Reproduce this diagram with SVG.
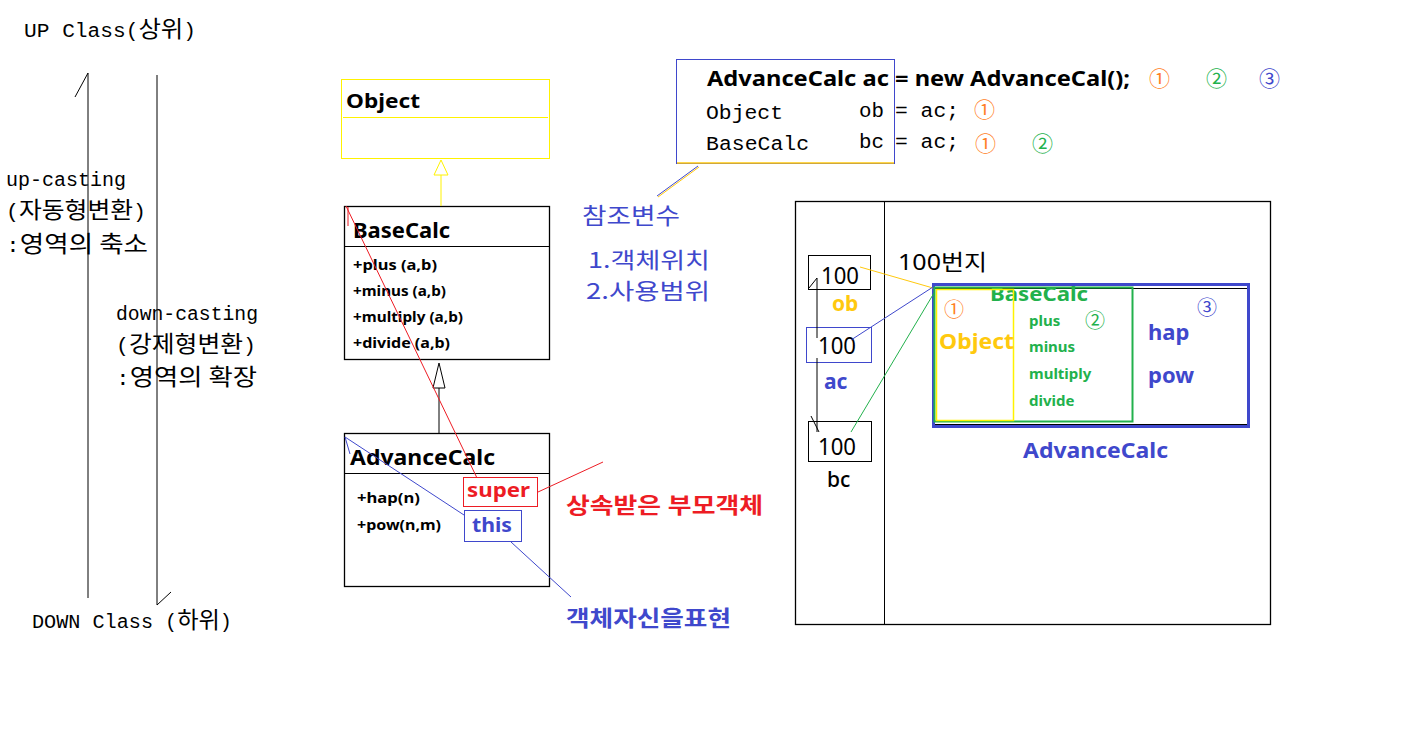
<svg xmlns="http://www.w3.org/2000/svg" width="1407" height="733" viewBox="0 0 1407 733">
<style>
.mono{font-family:"Liberation Mono","Noto Sans CJK KR",monospace;font-size:20px;fill:#000}
.k{font-family:"Noto Sans CJK KR",sans-serif;font-size:23px}
.b{font-family:"Noto Sans","Noto Sans CJK KR",sans-serif;font-weight:bold}
.s{font-family:"Noto Sans","Noto Sans CJK KR",sans-serif}
.kr{font-family:"Noto Sans CJK KR",sans-serif}
.ln{stroke:#000;stroke-width:1;fill:none}
.box{fill:#fff;stroke:#000;stroke-width:1.3}
.blue{fill:#3f48cc}.red{fill:#ed1c24}.green{fill:#22b14c}.orange{fill:#ff7f27}.gold{fill:#ffc90e}
</style>
<rect width="1407" height="733" fill="#fff"/>

<g id="casting-axis">
<text class="mono" x="24" y="37" textLength="172" lengthAdjust="spacingAndGlyphs">UP Class(<tspan class="k">상위</tspan>)</text>
<line class="ln" x1="88" y1="73" x2="88" y2="598"/>
<line class="ln" x1="75" y1="97" x2="88" y2="73"/>
<line class="ln" x1="157" y1="75" x2="157" y2="605"/>
<line class="ln" x1="157" y1="605" x2="171" y2="592"/>
<text class="mono" x="6" y="186" textLength="120" lengthAdjust="spacingAndGlyphs">up-casting</text>
<text class="mono" x="6" y="218" textLength="140" lengthAdjust="spacingAndGlyphs">(<tspan class="k">자동형변환</tspan>)</text>
<text class="mono" x="6" y="252" textLength="142" lengthAdjust="spacingAndGlyphs">:<tspan class="k">영역의 축소</tspan></text>
<text class="mono" x="116" y="320" textLength="142" lengthAdjust="spacingAndGlyphs">down-casting</text>
<text class="mono" x="116" y="352" textLength="140" lengthAdjust="spacingAndGlyphs">(<tspan class="k">강제형변환</tspan>)</text>
<text class="mono" x="116" y="385" textLength="141" lengthAdjust="spacingAndGlyphs">:<tspan class="k">영역의 확장</tspan></text>
<text class="mono" x="32" y="628" textLength="200" lengthAdjust="spacingAndGlyphs">DOWN Class (<tspan class="k">하위</tspan>)</text>
</g>

<g id="object-class">
<rect x="341.5" y="79.5" width="208" height="79" fill="#fff" stroke="#fff200" stroke-width="1"/>
<line x1="343" y1="117.5" x2="548" y2="117.5" stroke="#fff200" stroke-width="1"/>
<text class="b" x="346" y="108" font-size="20" textLength="74" lengthAdjust="spacingAndGlyphs">Object</text>
</g>

<g id="basecalc-class">
<rect class="box" x="344.5" y="206.5" width="205" height="153"/>
<line class="ln" x1="345" y1="246.5" x2="549" y2="246.5"/>
<text class="b" x="353" y="238" font-size="21" textLength="97" lengthAdjust="spacingAndGlyphs">BaseCalc</text>
<g class="b" font-size="15">
<text x="353" y="270" textLength="84" lengthAdjust="spacingAndGlyphs">+plus  (a,b)</text>
<text x="353" y="296" textLength="93" lengthAdjust="spacingAndGlyphs">+minus (a,b)</text>
<text x="353" y="322" textLength="110" lengthAdjust="spacingAndGlyphs">+multiply (a,b)</text>
<text x="353" y="348" textLength="97" lengthAdjust="spacingAndGlyphs">+divide  (a,b)</text>
</g>
</g>

<g id="advancecalc-class">
<rect class="box" x="344.5" y="433.5" width="205" height="153"/>
<line class="ln" x1="345" y1="473.5" x2="549" y2="473.5"/>
<text class="b" x="350" y="465" font-size="21" textLength="145" lengthAdjust="spacingAndGlyphs">AdvanceCalc</text>
<g class="b" font-size="15">
<text x="357" y="503" textLength="63" lengthAdjust="spacingAndGlyphs">+hap(n)</text>
<text x="357" y="530" textLength="84" lengthAdjust="spacingAndGlyphs">+pow(n,m)</text>
</g>
</g>

<g id="super-label">
<rect x="463.5" y="477.5" width="74" height="29" fill="#fff" stroke="#ed1c24" stroke-width="1"/>
<text class="b red" x="467" y="497" font-size="20" textLength="63" lengthAdjust="spacingAndGlyphs">super</text>
<text class="b red" x="566" y="513" font-size="22" textLength="197" lengthAdjust="spacingAndGlyphs">상속받은 부모객체</text>
</g>

<g id="this-label">
<rect x="464.5" y="510.5" width="57" height="31" fill="#fff" stroke="#3f48cc" stroke-width="1"/>
<text class="b blue" x="472" y="532" font-size="20" textLength="40" lengthAdjust="spacingAndGlyphs">this</text>
<text class="b blue" x="566" y="626" font-size="22" textLength="165" lengthAdjust="spacingAndGlyphs">객체자신을표현</text>
</g>

<g id="code-box">
<rect x="676.5" y="59.5" width="218" height="104" fill="none" stroke="#3f48cc" stroke-width="1"/>
<line x1="677" y1="163" x2="894" y2="163" stroke="#ffc90e" stroke-width="1.5"/>
<text class="b" x="707" y="86" font-size="21" textLength="423" lengthAdjust="spacingAndGlyphs">AdvanceCalc ac = new AdvanceCal();</text>
<text class="kr orange" x="1149" y="86" font-size="21">①</text>
<text class="kr green" x="1206" y="86" font-size="21">②</text>
<text class="kr blue" x="1259" y="86" font-size="21">③</text>
<text class="mono" x="706" y="119" font-size="22" textLength="77" lengthAdjust="spacingAndGlyphs">Object</text>
<text class="mono" x="859" y="117" font-size="22" textLength="25" lengthAdjust="spacingAndGlyphs">ob</text>
<text class="mono" x="895" y="117" font-size="22" textLength="64" lengthAdjust="spacingAndGlyphs">= ac;</text>
<text class="kr orange" x="974" y="117" font-size="21">①</text>
<text class="mono" x="706" y="150" font-size="22" textLength="103" lengthAdjust="spacingAndGlyphs">BaseCalc</text>
<text class="mono" x="859" y="148" font-size="22" textLength="25" lengthAdjust="spacingAndGlyphs">bc</text>
<text class="mono" x="895" y="148" font-size="22" textLength="64" lengthAdjust="spacingAndGlyphs">= ac;</text>
<text class="kr orange" x="975" y="151" font-size="21">①</text>
<text class="kr green" x="1032" y="151" font-size="21">②</text>
</g>

<g id="reference-variable-note">
<text class="kr blue" x="582" y="224" font-size="23" textLength="98" lengthAdjust="spacingAndGlyphs">참조변수</text>
<text class="kr blue" x="588" y="268" font-size="22" textLength="122" lengthAdjust="spacingAndGlyphs">1.객체위치</text>
<text class="kr blue" x="586" y="299" font-size="22" textLength="124" lengthAdjust="spacingAndGlyphs">2.사용범위</text>
</g>

<g id="memory">
<rect x="795.5" y="201.5" width="475" height="423" fill="none" stroke="#000" stroke-width="1.3"/>
<line class="ln" x1="884.5" y1="201" x2="884.5" y2="624" stroke-width="1.3"/>
<text class="s" x="898" y="270" font-size="22" textLength="89" lengthAdjust="spacingAndGlyphs">100번지</text>
</g>

<g id="var-ob">
<rect x="808.5" y="255.5" width="62" height="34" fill="none" stroke="#000" stroke-width="1"/>
<text class="s" x="821" y="284" font-size="23" textLength="38" lengthAdjust="spacingAndGlyphs">100</text>
<text class="b gold" x="832" y="311" font-size="21">ob</text>
</g>
<g id="var-ac">
<rect x="806.5" y="327.5" width="65" height="35" fill="none" stroke="#3f48cc" stroke-width="1"/>
<text class="s" x="818" y="354" font-size="23" textLength="38" lengthAdjust="spacingAndGlyphs">100</text>
<text class="b blue" x="824" y="389" font-size="21">ac</text>
</g>
<g id="var-bc">
<rect x="808.5" y="421.5" width="63" height="40" fill="none" stroke="#000" stroke-width="1"/>
<text class="s" x="818" y="455" font-size="23" textLength="38" lengthAdjust="spacingAndGlyphs">100</text>
<text class="s" x="827" y="487" font-size="21" font-weight="500">bc</text>
</g>

<g id="instance-advancecalc">
<rect x="933.5" y="284.5" width="315" height="142" fill="none" stroke="#3f48cc" stroke-width="3"/>
<line class="ln" x1="935" y1="288.5" x2="1247" y2="288.5"/>
<line class="ln" x1="935" y1="424.5" x2="1247" y2="424.5"/>
<text class="b blue" x="1148" y="340" font-size="22">hap</text>
<text class="b blue" x="1148" y="383" font-size="22">pow</text>
<text class="kr blue" x="1197" y="315" font-size="20">③</text>
<text class="b blue" x="1023" y="458" font-size="21" textLength="145" lengthAdjust="spacingAndGlyphs">AdvanceCalc</text>
</g>
<g id="instance-basecalc">
<rect x="934.5" y="287.5" width="198" height="134" fill="none" stroke="#22b14c" stroke-width="2"/>
<text class="b green" x="990" y="301" font-size="20" textLength="98" lengthAdjust="spacingAndGlyphs">BaseCalc</text>
<g class="b green" font-size="15">
<text x="1029" y="326">plus</text>
<text x="1029" y="352">minus</text>
<text x="1029" y="379">multiply</text>
<text x="1029" y="406">divide</text>
</g>
<text class="kr green" x="1085" y="328" font-size="20">②</text>
</g>
<g id="instance-object">
<rect x="936.5" y="289.5" width="77" height="131" fill="none" stroke="#fff200" stroke-width="1.5"/>
<text class="kr orange" x="944" y="317" font-size="20">①</text>
<text class="b gold" x="939" y="349" font-size="21" textLength="75" lengthAdjust="spacingAndGlyphs">Object</text>
</g>

<g id="connectors">
<line x1="441" y1="206" x2="441" y2="175" stroke="#fff200" stroke-width="1"/>
<polygon points="441,160 434,175 448,175" fill="#fff" stroke="#fff200" stroke-width="1"/>
<line class="ln" x1="439" y1="433" x2="439" y2="388"/>
<polygon points="439,363 433,388 445,388" fill="#fff" stroke="#000" stroke-width="1"/>
<line x1="346" y1="206" x2="477" y2="478" stroke="#ed1c24" stroke-width="1"/>
<line x1="348" y1="207" x2="348" y2="226" stroke="#ed1c24" stroke-width="1"/>
<line x1="538" y1="492" x2="603" y2="462" stroke="#ed1c24" stroke-width="1"/>
<line x1="345" y1="437" x2="464" y2="515" stroke="#3f48cc" stroke-width="1"/>
<line x1="345" y1="437" x2="350" y2="454" stroke="#3f48cc" stroke-width="1"/>
<line x1="511" y1="542" x2="571" y2="597" stroke="#3f48cc" stroke-width="1"/>
<line x1="698" y1="166" x2="657" y2="196" stroke="#3f48cc" stroke-width="1"/>
<line x1="699" y1="167" x2="658" y2="197" stroke="#ffc90e" stroke-width="1"/>
<line x1="860" y1="267" x2="933" y2="288" stroke="#ffc90e" stroke-width="1"/>
<line x1="851" y1="340" x2="933" y2="287" stroke="#3f48cc" stroke-width="1"/>
<line x1="851" y1="432" x2="934" y2="293" stroke="#22b14c" stroke-width="1"/>
<line class="ln" x1="817" y1="278" x2="817" y2="338"/>
<line class="ln" x1="809" y1="288" x2="817" y2="278"/>
<line class="ln" x1="817" y1="358" x2="817" y2="432"/>
<line class="ln" x1="811" y1="416" x2="819" y2="432"/>
</g>
</svg>
